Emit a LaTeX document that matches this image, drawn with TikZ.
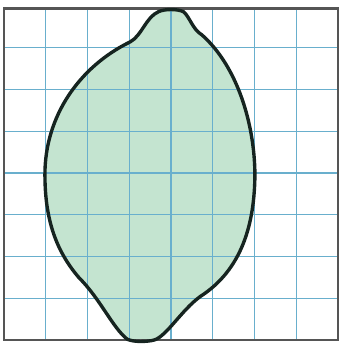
\documentclass[tikz,border=0pt]{standalone}
\definecolor{gridblue}{RGB}{105,175,205}
\definecolor{lemonfill}{RGB}{196,228,208}
\definecolor{outlinec}{RGB}{22,36,32}
\definecolor{borderc}{RGB}{85,85,85}
\tikzset{
  gridline/.style={draw=gridblue, line width=0.9pt},
  framebox/.style={draw=borderc, line width=1.8pt},
  lemon/.style={draw=outlinec, line width=2.3pt, line join=round},
}
\def\lemonpath{(3.70,7.93) .. controls (3.85,8.0) and (4.15,8.0) .. (4.30,7.93)
 .. controls (4.45,7.8) and (4.52,7.5) .. (4.74,7.37)
 .. controls (5.6,6.6) and (6.0,5.2) .. (6.01,4.0)
 .. controls (6.0,2.8) and (5.7,1.7) .. (4.7,1.05)
 .. controls (4.25,0.72) and (3.9,0.1) .. (3.6,0.0)
 .. controls (3.4,-0.05) and (3.1,-0.05) .. (2.95,0.02)
 .. controls (2.6,0.3) and (2.3,1.0) .. (1.8,1.5)
 .. controls (1.2,2.2) and (0.98,3.0) .. (0.98,4.0)
 .. controls (0.98,5.4) and (1.8,6.6) .. (3.02,7.2)
 .. controls (3.3,7.35) and (3.4,7.8) .. (3.70,7.93) -- cycle}
\begin{document}
\begin{tikzpicture}[x=1cm, y=0.9916cm]
\useasboundingbox (-0.096,-0.169) rectangle (8.048,8.213);
\fill[lemonfill] \lemonpath;
\draw[gridline] (0,0) grid (8,8);
\draw[framebox] (0,0) rectangle (8,8);
\draw[lemon] \lemonpath;
\end{tikzpicture}
\end{document}
